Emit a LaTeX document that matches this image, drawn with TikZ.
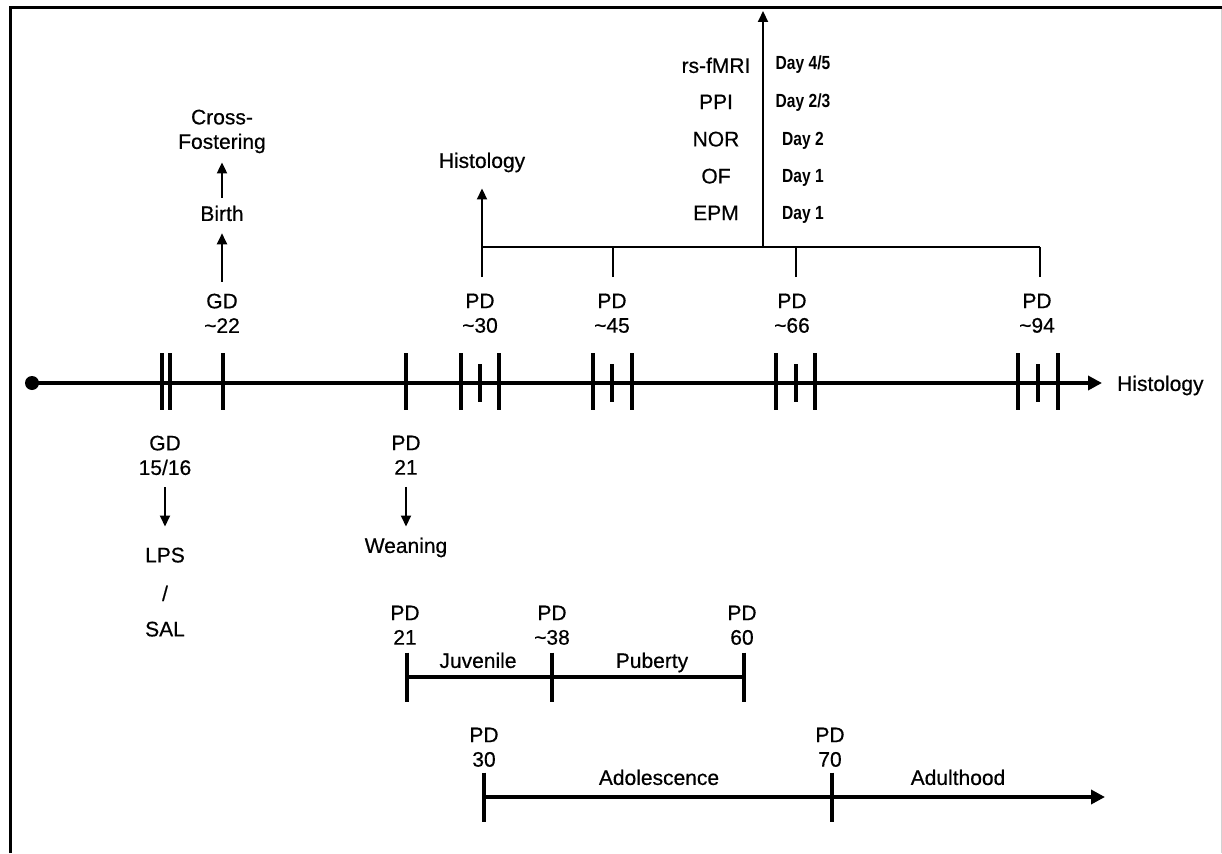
\documentclass[tikz,border=0pt]{standalone}
\usepackage{fontspec}
\setmainfont[FakeBold=0.5]{Liberation Sans}
\newfontfamily\dayfam[FakeStretch=0.82]{Liberation Sans}
\usetikzlibrary{arrows.meta}

\begin{document}
\begin{tikzpicture}[x=1pt,y=-1pt,
  lbl/.style={font=\fontsize{21}{24.5}\selectfont, align=center, inner sep=0pt, anchor=north},
  daylbl/.style={font=\dayfam\bfseries\fontsize{19}{20}\selectfont, inner sep=0pt, anchor=north},
  axisline/.style={line width=4pt},
  tickline/.style={line width=4.5pt},
  thinline/.style={line width=2pt},
  thinarrow/.style={line width=2pt, -{Triangle[length=11pt,width=10pt]}},
  thickarrow/.style={line width=4pt, -{Triangle[length=14pt,width=14pt]}},
]
\useasboundingbox (0,0) rectangle (1222,853);

% frame
\draw[line width=3pt] (10.5,853) -- (10.5,7.5) -- (1222,7.5);
\draw[gray!35, line width=1pt] (1221,9) -- (1221,853);

% ---------- main time axis ----------
\node[circle, fill, inner sep=0pt, minimum size=14pt] (start) at (32,383) {};
\node[lbl, anchor=north west] (hist2) at (1117,375.5) {Histology};
\draw[thickarrow, shorten >=15pt] (start.center) -- (start -| hist2.west);

\foreach \x in {162,170,223,406,461,499,593,632,776,815,1018,1058}
  \draw[tickline] (\x,353) -- (\x,410);
\foreach \x in {480,612,796,1038}
  \draw[tickline] (\x,364) -- (\x,402);

% ---------- prenatal events ----------
\node[lbl] (crossf) at (222,109.5) {Cross-\\Fostering};
\node[lbl] (birth) at (222,205.5) {Birth};
\node[lbl] (gd22) at (222,293.5) {GD\\\textasciitilde22};
\draw[thinarrow, shorten <=12pt, shorten >=12pt] (gd22.north) -- (birth.south);
\draw[thinarrow, shorten <=8pt, shorten >=9pt] (birth.north) -- (crossf.south);

\node[lbl] (gd1516) at (165,435.5) {GD\\15/16};
\node[lbl] (lps) at (165,547.5) {LPS};
\node[lbl] (slash) at (165,585.5) {/};
\node[lbl] (sal) at (165,621.5) {SAL};
\draw[thinarrow, shorten <=12pt, shorten >=21pt] (gd1516.south) -- (lps.north);

\node[lbl] (pd21) at (406,435.5) {PD\\21};
\node[lbl] (wean) at (406,537.5) {Weaning};
\draw[thinarrow, shorten <=12pt, shorten >=11pt] (pd21.south) -- (wean.north);

% ---------- testing time points ----------
\node[lbl] (pd30) at (480,293.5) {PD\\\textasciitilde30};
\node[lbl] (pd45) at (612,293.5) {PD\\\textasciitilde45};
\node[lbl] (pd66) at (792,293.5) {PD\\\textasciitilde66};
\node[lbl] (pd94) at (1037,293.5) {PD\\\textasciitilde94};
\node[lbl] (hist1) at (482,152.5) {Histology};

\coordinate (d30) at (482,277);
\coordinate (d45) at (613,277);
\coordinate (d66) at (796,277);
\coordinate (d94) at (1040,277);
\coordinate (bl) at (482,247);
\coordinate (br) at (1040,247);
\coordinate (btest) at (763,247);
\coordinate (ttop) at (763,11);

\draw[thinline] (bl) -- (br);
\draw[thinarrow, shorten >=16pt] (d30) -- (hist1.south);
\draw[thinline] (d45) -- (d45 |- bl);
\draw[thinline] (d66) -- (d66 |- bl);
\draw[thinline] (d94) -- (d94 |- bl);
\draw[thinarrow] (btest) -- (ttop);

% behavioural tests and their days
\node[lbl] (fmri) at (716,57.5) {rs-fMRI};
\node[lbl] (ppi)  at (716,94.5) {PPI};
\node[lbl] (nor)  at (716,131.5) {NOR};
\node[lbl] (of)   at (716,168.5) {OF};
\node[lbl] (epm)  at (716,205.5) {EPM};
\node[daylbl] (dfmri) at (803,56) {Day 4/5};
\node[daylbl] (dppi)  at (803,94) {Day 2/3};
\node[daylbl] (dnor)  at (803,132) {Day 2};
\node[daylbl] (dof)   at (803,169) {Day 1};
\node[daylbl] (depm)  at (803,206) {Day 1};

% ---------- juvenile / puberty ----------
\coordinate (j21) at (407,677);
\coordinate (j38) at (552,677);
\coordinate (j60) at (744,677);
\draw[axisline] (j21) -- (j60);
\foreach \c in {j21,j38,j60}
  \draw[tickline] (\c) ++(0,-24.5) -- ++(0,49);
\node[lbl] (pd21b) at (405,605.5) {PD\\21};
\node[lbl] (pd38) at (552,605.5) {PD\\\textasciitilde38};
\node[lbl] (pd60) at (742,605.5) {PD\\60};
\node[lbl] (juv) at (478,652.5) {Juvenile};
\node[lbl] (pub) at (652,652.5) {Puberty};

% ---------- adolescence / adulthood ----------
\coordinate (a30) at (484,797);
\coordinate (a70) at (832,797);
\coordinate (aend) at (1105,797);
\draw[thickarrow] (a30) -- (aend);
\foreach \c in {a30,a70}
  \draw[tickline] (\c) ++(0,-24.5) -- ++(0,49);
\node[lbl] (pd30b) at (484,727.5) {PD\\30};
\node[lbl] (pd70) at (830,727.5) {PD\\70};
\node[lbl] (adol) at (659,769.5) {Adolescence};
\node[lbl] (adult) at (958,769.5) {Adulthood};

\end{tikzpicture}
\end{document}
